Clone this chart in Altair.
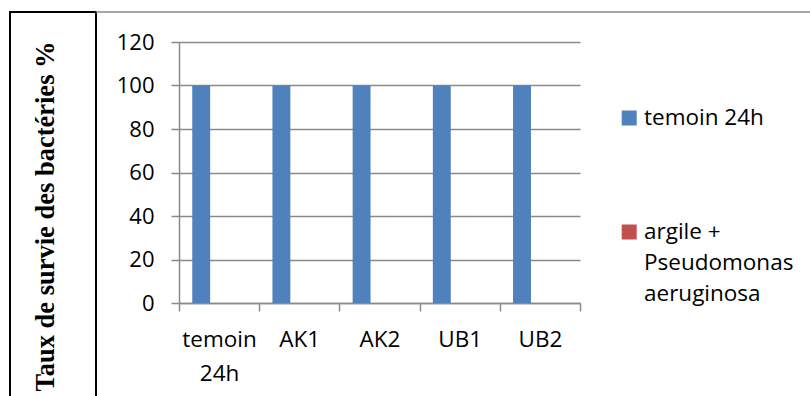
import altair as alt
import pandas as pd

categories = ["temoin 24h", "AK1", "AK2", "UB1", "UB2"]
series = ["temoin 24h", "argile + Pseudomonas aeruginosa"]
legend_lines = ["temoin 24h", "argile +|Pseudomonas|aeruginosa"]
slots = series + ["(vide)"]
temoin_values = [100, 100, 100, 100, 100]
argile_values = [0, 0, 0, 0, 0]
colors = ["#4F81BD", "#C0504D"]
y_ticks = [0, 20, 40, 60, 80, 100, 120]
y_title = "Taux de survie des bactéries %"

rows = []
for c, v in zip(categories, temoin_values):
    rows.append({"cat": c, "serie": series[0], "val": v})
for c, v in zip(categories, argile_values):
    rows.append({"cat": c, "serie": series[1], "val": v})
df = pd.DataFrame(rows)
leg_df = pd.DataFrame({"serie": series, "txt": legend_lines})

LABEL_FONT = "Open Sans"
GRAY = "#8a8a8a"
color_scale = alt.Scale(domain=series, range=colors)

bars = alt.Chart(df).mark_bar().encode(
    x=alt.X(
        "cat:N", sort=categories, title=None,
        scale=alt.Scale(paddingInner=0, paddingOuter=0),
        axis=alt.Axis(
            tickBand="extent", labelAngle=0, grid=False,
            domainColor=GRAY, domainWidth=1.5, tickColor=GRAY, tickWidth=1.5, tickSize=8,
            labelFont=LABEL_FONT, labelFontSize=22.5, labelColor="black",
            labelPadding=17, labelLineHeight=34, labelLimit=300,
            labelExpr="datum.value == 'temoin 24h' ? ['temoin', '24h'] : datum.value",
        ),
    ),
    xOffset=alt.XOffset(
        "serie:N",
        scale=alt.Scale(domain=slots, paddingInner=0, paddingOuter=0.74),
    ),
    y=alt.Y(
        "val:Q", title=y_title,
        scale=alt.Scale(domain=[0, 120], nice=False),
        axis=alt.Axis(
            values=y_ticks, grid=True, gridColor=GRAY, gridWidth=1.5,
            domainColor=GRAY, domainWidth=1.5, tickColor=GRAY, tickWidth=1.5, tickSize=8,
            labelFont=LABEL_FONT, labelFontSize=22, labelColor="black", labelPadding=17,
            titleFont="Liberation Serif", titleFontWeight="bold", titleFontSize=26.5,
            titleColor="black", titleAngle=270, titleAlign="center",
            titleBaseline="alphabetic", titleX=-126, titleY=174,
        ),
    ),
    color=alt.Color("serie:N", scale=color_scale, legend=None),
)

leg_y = alt.Y("serie:N", scale=alt.Scale(type="point", domain=series, range=[76, 190], padding=0), axis=None)
leg_sym = alt.Chart(leg_df).mark_square(size=225, opacity=1, filled=True).encode(
    x=alt.value(450.2), y=leg_y,
    color=alt.Color("serie:N", scale=color_scale, legend=None),
)
leg_txt = alt.Chart(leg_df).transform_calculate(
    lines="split(datum.txt, '|')"
).mark_text(
    align="left", baseline="middle", font=LABEL_FONT, fontSize=22.5, lineHeight=31, color="black"
).encode(
    x=alt.value(465), y=leg_y, text="lines:N",
)

frame_df = pd.DataFrame({"k": [0]})
left_box = alt.Chart(frame_df).mark_rect(fillOpacity=0, stroke="black", strokeWidth=2).encode(
    x=alt.value(-169), x2=alt.value(-83), y=alt.value(-30), y2=alt.value(400)
)
top_line = alt.Chart(frame_df).mark_rule(color=GRAY, strokeWidth=1.5).encode(
    x=alt.value(-83), x2=alt.value(640), y=alt.value(-30)
)

chart = alt.layer(left_box, top_line, bars, leg_sym, leg_txt).resolve_scale(
    y="independent"
).properties(
    width=401, height=261,
    autosize=alt.AutoSizeParams(type="none"),
    padding={"left": 179, "top": 42, "right": 230, "bottom": 93},
    background="white",
).configure_view(stroke=None)

chart.save("out.html", embed_options={"renderer": "svg", "actions": False})
